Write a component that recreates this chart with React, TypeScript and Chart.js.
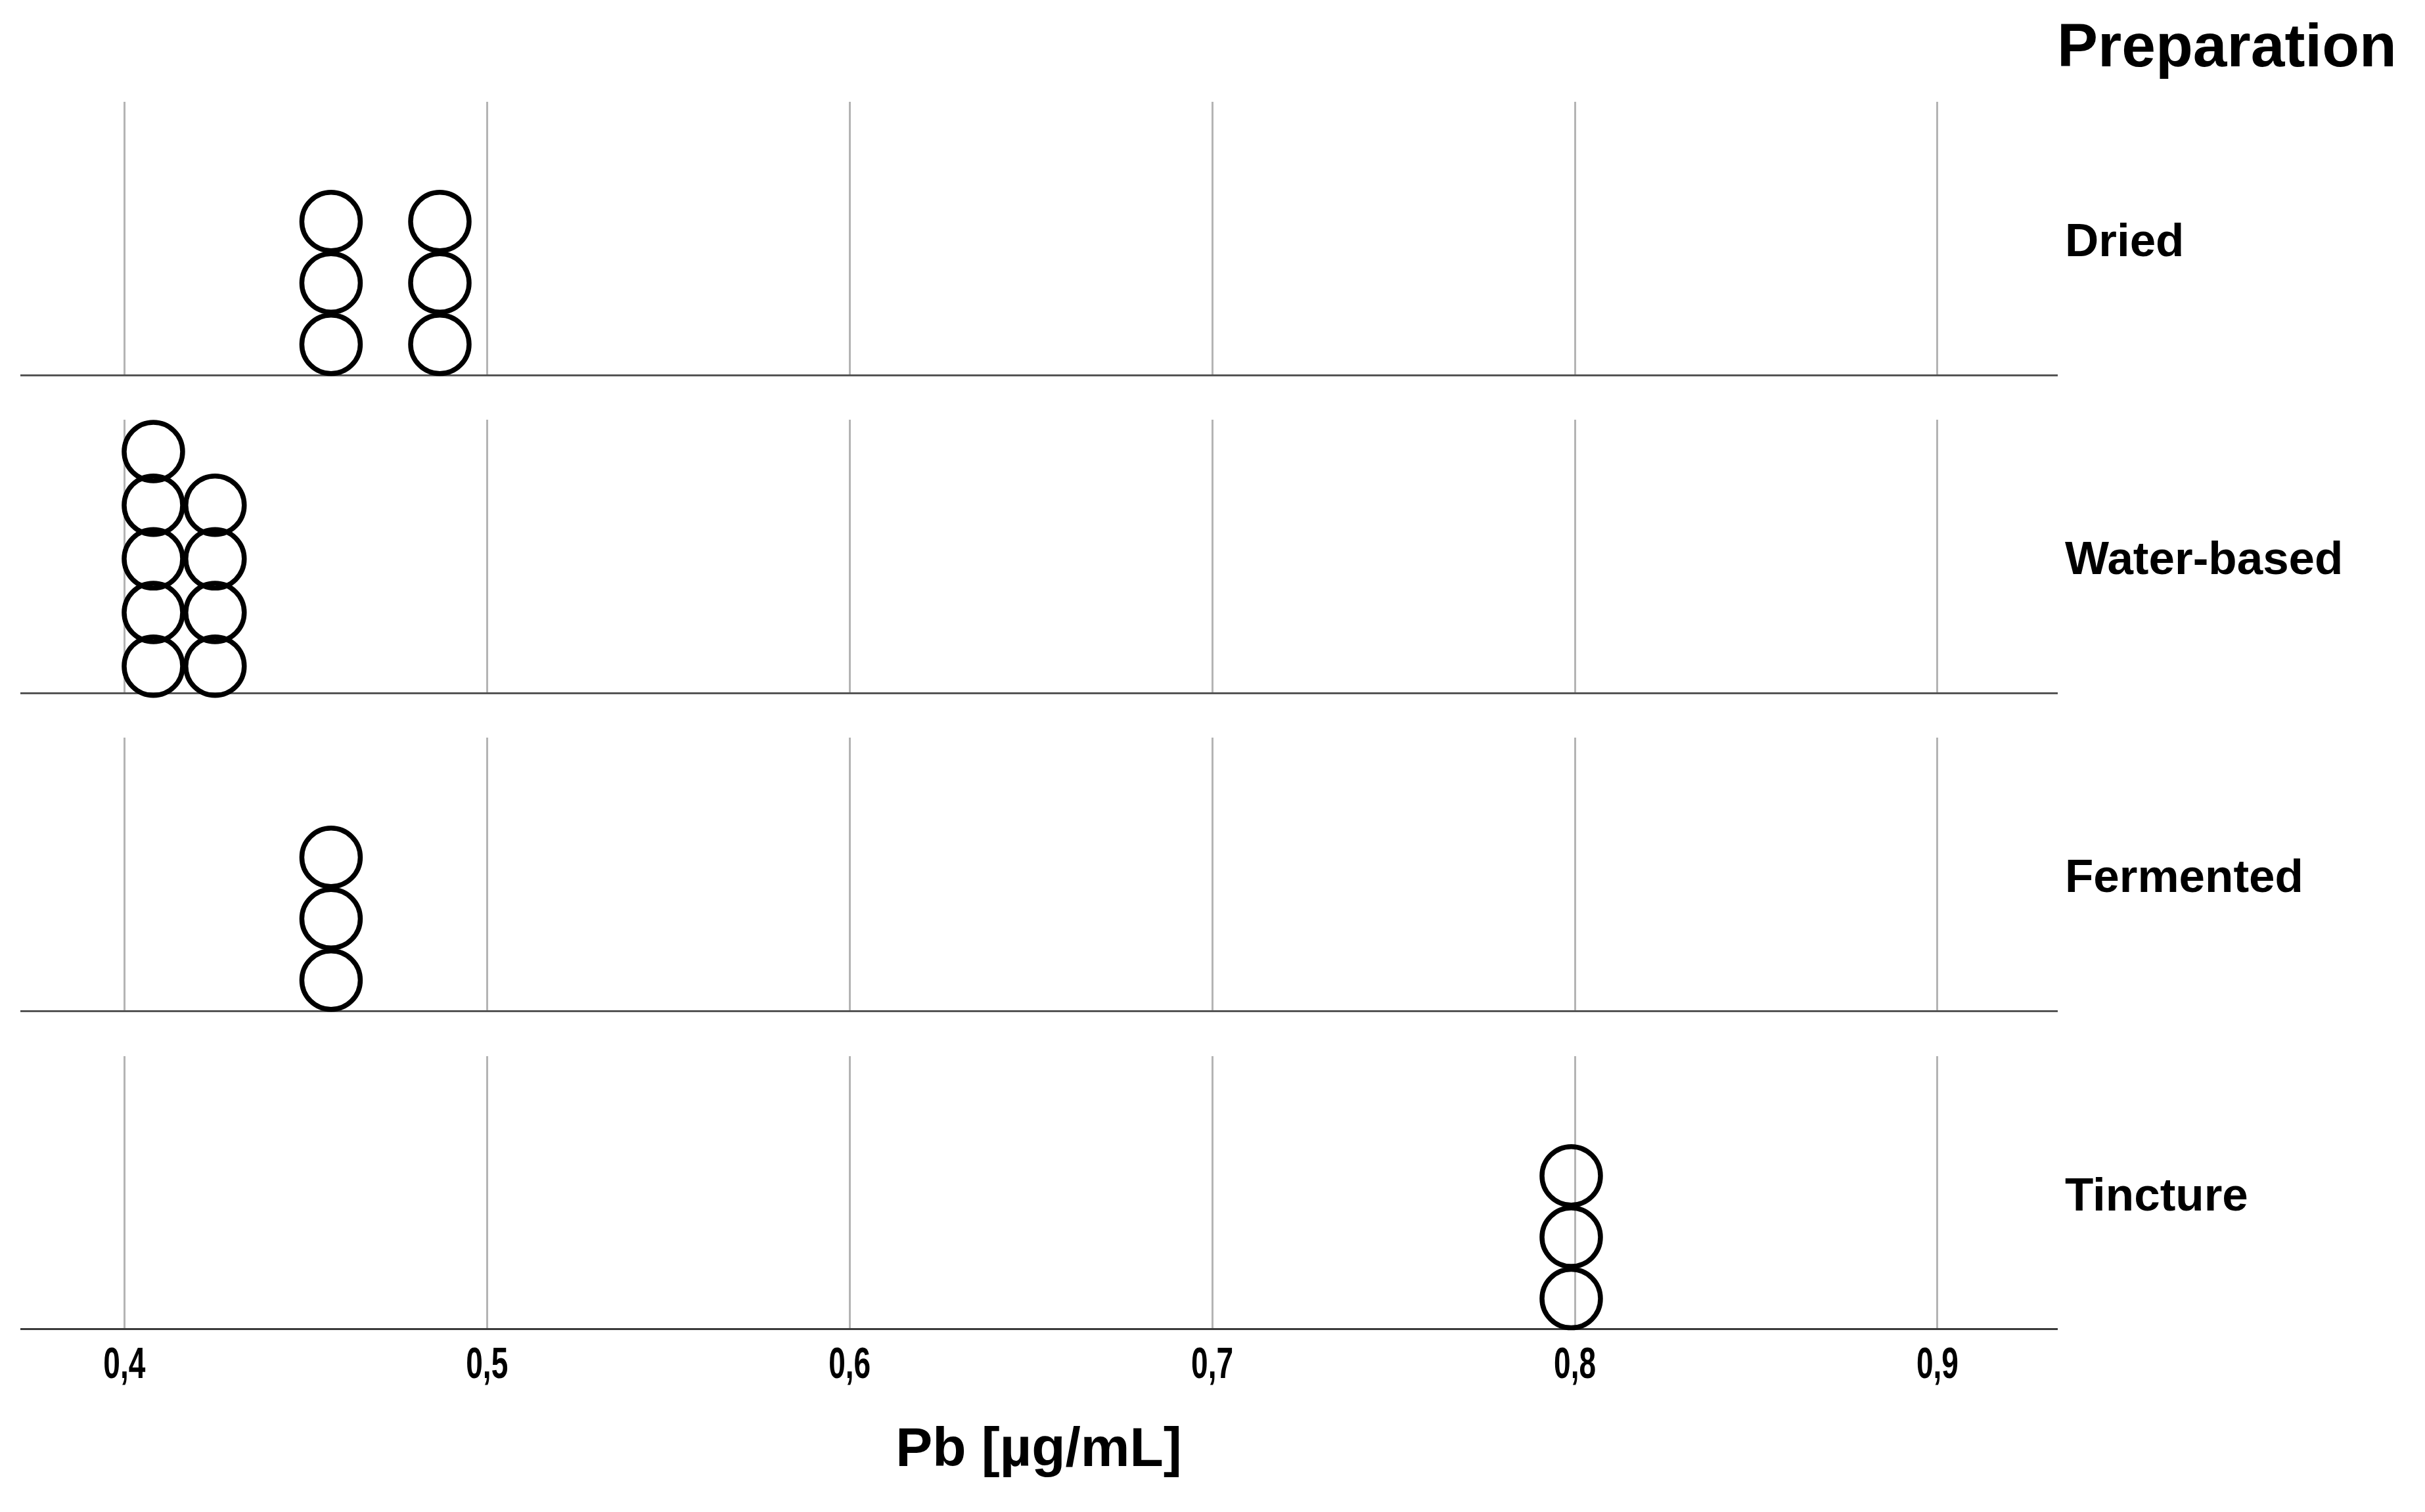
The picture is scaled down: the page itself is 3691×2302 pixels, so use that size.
import React, { useEffect, useRef } from 'react';
import { Chart, registerables } from 'chart.js';

Chart.register(...registerables);

// ---- data ----
const CATEGORIES = ['Dried', 'Water-based', 'Fermented', 'Tincture'];
const DRIED = [0.457, 0.457, 0.457, 0.487, 0.487, 0.487];
const WATER_BASED = [0.408, 0.408, 0.408, 0.408, 0.408, 0.425, 0.425, 0.425, 0.425];
const FERMENTED = [0.457, 0.457, 0.457];
const TINCTURE = [0.799, 0.799, 0.799];
const SERIES = [DRIED, WATER_BASED, FERMENTED, TINCTURE];
const TICK_VALUES = [0.4, 0.5, 0.6, 0.7, 0.8, 0.9];
const TICK_LABELS = ['0,4', '0,5', '0,6', '0,7', '0,8', '0,9'];
const X_MIN = 0.3715;
const X_MAX = 0.9328;
const X_TITLE = 'Pb [µg/mL]';
const LEGEND_TITLE = 'Preparation';

// ---- layout ----
const W = 3691;
const H = 2302;
const AREA_LEFT = 32;
const AREA_RIGHT = 3130;
const PANEL_TOPS = [155, 639, 1123, 1608];
const PANEL_H = 416;
const PAD = 24;
const LAST_PAD_BOTTOM = 43;
const TITLE_PAD_TOP = 34;
const MAX_STEP = 93.5;
const DOT_OUTER = 48.5;
const SANS = "'Liberation Sans', Arial, Helvetica, sans-serif";
const TICK_FONT_SIZE = 67;
const TICK_LABEL_WIDTH = 64;

function stackPoints(values: number[]) {
  const counts = new Map<number, number>();
  return values.map((v) => {
    const k = counts.get(v) || 0;
    counts.set(v, k + 1);
    return { x: v, y: k + 0.5 };
  });
}

function maxStack(values: number[]) {
  const counts = new Map<number, number>();
  let m = 0;
  values.forEach((v) => {
    const c = (counts.get(v) || 0) + 1;
    counts.set(v, c);
    m = Math.max(m, c);
  });
  return m;
}

// draws the tick labels of the x scale in a condensed (horizontally squeezed) face
const narrowTicks = {
  id: 'narrowTicks',
  afterDraw(chart: any, _args: any, opts: any) {
    if (!opts || !opts.enabled) return;
    const xs = chart.scales.x;
    const ctx = chart.ctx;
    ctx.save();
    ctx.fillStyle = '#000';
    ctx.font = `bold ${TICK_FONT_SIZE}px ${SANS}`;
    ctx.textAlign = 'center';
    ctx.textBaseline = 'alphabetic';
    TICK_VALUES.forEach((v, i) => {
      const x = xs.getPixelForValue(v);
      ctx.fillText(TICK_LABELS[i], x, chart.chartArea.bottom + 74, TICK_LABEL_WIDTH);
    });
    ctx.restore();
  },
};

function DotPanel({ index }: { index: number }) {
  const ref = useRef<HTMLCanvasElement | null>(null);
  const last = index === SERIES.length - 1;
  const top = PANEL_TOPS[index] - PAD;
  const height = last ? H - top : PANEL_H + 2 * PAD;

  useEffect(() => {
    if (!ref.current) return;
    const values = SERIES[index];
    const ms = maxStack(values);
    const step = Math.min(MAX_STEP, (PANEL_H - DOT_OUTER) / (ms - 0.5));
    const yMax = PANEL_H / step;
    const padBottom = last ? LAST_PAD_BOTTOM : PAD;

    const chart = new Chart(ref.current, {
      type: 'scatter',
      data: {
        datasets: [
          {
            label: CATEGORIES[index],
            data: stackPoints(values),
            pointStyle: 'circle',
            pointRadius: 44.5,
            pointHoverRadius: 44.5,
            pointBorderWidth: 7.5,
            pointHoverBorderWidth: 7.5,
            pointBorderColor: '#000',
            pointBackgroundColor: 'rgba(0,0,0,0)',
            borderColor: '#000',
            backgroundColor: 'rgba(0,0,0,0)',
            clip: false as any,
          },
        ],
      },
      plugins: [narrowTicks],
      options: {
        animation: false,
        responsive: false,
        devicePixelRatio: 1,
        events: [],
        layout: {
          autoPadding: false,
          padding: { left: AREA_LEFT, right: W - AREA_RIGHT, top: PAD, bottom: padBottom },
        },
        plugins: {
          legend: { display: false },
          tooltip: { enabled: false },
          narrowTicks: { enabled: last },
        },
        scales: {
          x: {
            type: 'linear',
            min: X_MIN,
            max: X_MAX,
            afterBuildTicks: (scale: any) => {
              scale.ticks = TICK_VALUES.map((v) => ({ value: v }));
            },
            grid: { color: '#b4b4b4', lineWidth: 3, drawTicks: false },
            border: { color: last ? '#3a3a3a' : '#555555', width: 3 },
            ticks: {
              display: last,
              padding: 10,
              color: 'rgba(0,0,0,0)',
              autoSkip: false,
              maxRotation: 0,
              font: { family: SANS, size: TICK_FONT_SIZE, weight: 'bold' },
              callback: (v: any) => {
                const i = TICK_VALUES.findIndex((t) => Math.abs(t - Number(v)) < 1e-9);
                return i >= 0 ? TICK_LABELS[i] : '';
              },
            },
            title: {
              display: last,
              text: X_TITLE,
              color: '#000',
              font: { family: SANS, size: 84, weight: 'bold' },
              padding: { top: TITLE_PAD_TOP, bottom: 0 },
            },
          },
          y: { type: 'linear', display: false, min: 0, max: yMax },
        },
      },
    } as any);
    return () => chart.destroy();
  }, [index]);

  return (
    <canvas
      ref={ref}
      width={W}
      height={height}
      style={{ position: 'absolute', left: 0, top, width: W, height }}
    />
  );
}

export default function App() {
  const labelSize = 71;
  return (
    <div style={{ position: 'absolute', left: 0, top: 0, width: W, height: H, background: '#fff', overflow: 'hidden' }}>
      {SERIES.map((_, i) => (
        <DotPanel key={i} index={i} />
      ))}
      <div
        style={{
          position: 'absolute',
          left: 3131,
          top: 102 - 0.8465 * 93,
          fontFamily: SANS,
          fontWeight: 'bold',
          fontSize: 93,
          lineHeight: 1,
          color: '#000',
          whiteSpace: 'nowrap',
        }}
      >
        {LEGEND_TITLE}
      </div>
      {CATEGORIES.map((c, i) => {
        const baseline = PANEL_TOPS[i] + PANEL_H / 2 + 1.5 + 0.358 * labelSize;
        return (
          <div
            key={c}
            style={{
              position: 'absolute',
              left: 3143,
              top: baseline - 0.8465 * labelSize,
              fontFamily: SANS,
              fontWeight: 'bold',
              fontSize: labelSize,
              lineHeight: 1,
              color: '#000',
              whiteSpace: 'nowrap',
            }}
          >
            {c}
          </div>
        );
      })}
    </div>
  );
}
